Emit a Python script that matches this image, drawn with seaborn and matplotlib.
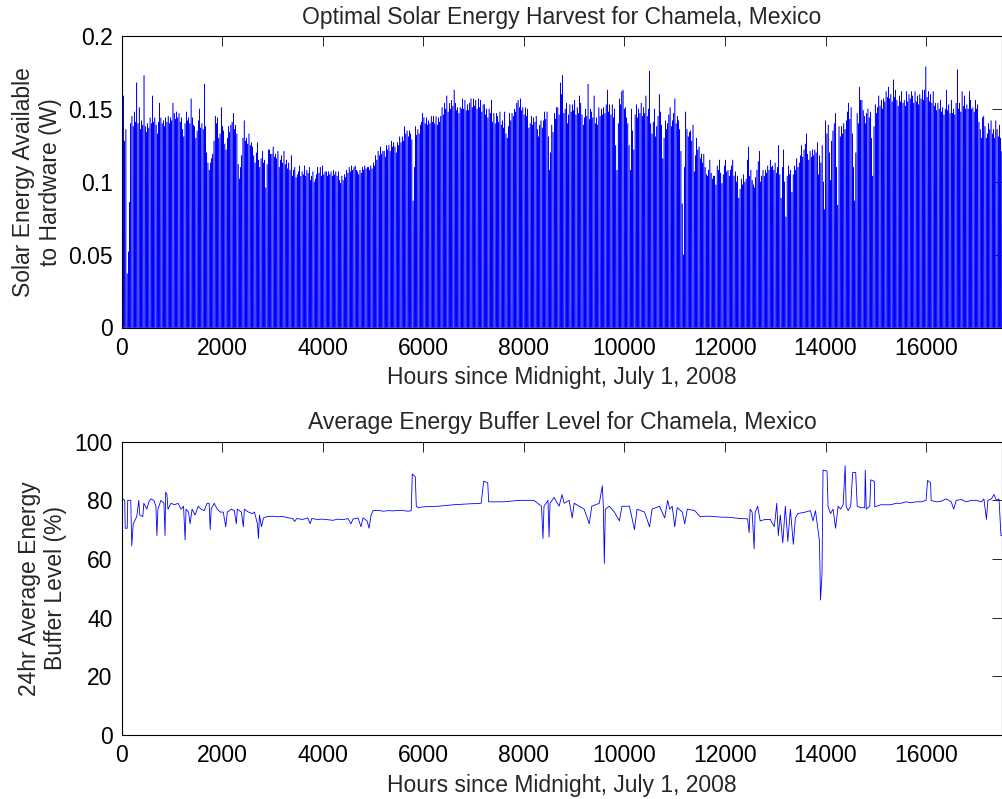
import numpy as np
import matplotlib
matplotlib.use("Agg")
import matplotlib.pyplot as plt
import seaborn as sns

# Daily peak of the solar power available to the hardware (W), one value per day
# starting at midnight, July 1, 2008.
peak_seg1 = [
    0.152, 0.159, 0.128, 0.136, 0.037, 0.052, 0.086, 0.140, 0.145, 0.138,
    0.148, 0.141, 0.168, 0.140, 0.151, 0.136, 0.142, 0.139, 0.173, 0.138,
    0.134, 0.140, 0.137, 0.144, 0.140, 0.159, 0.141, 0.144, 0.139, 0.133,
    0.141, 0.154, 0.144, 0.140, 0.142, 0.138, 0.144, 0.141, 0.145, 0.140,
    0.144, 0.142, 0.154, 0.147, 0.143, 0.148, 0.144, 0.147, 0.141, 0.144,
    0.136, 0.131, 0.140, 0.148, 0.142, 0.144, 0.140, 0.157, 0.144, 0.139,
    0.138, 0.130, 0.135, 0.142, 0.150, 0.137, 0.140, 0.136, 0.167, 0.138,
    0.120, 0.113, 0.108, 0.113, 0.116, 0.119, 0.128, 0.145, 0.140, 0.144,
    0.130, 0.133, 0.151, 0.138, 0.135, 0.126, 0.122, 0.130, 0.138, 0.134,
    0.139, 0.141, 0.147, 0.136, 0.139, 0.133, 0.112, 0.102, 0.110, 0.118,
    0.130, 0.142, 0.128, 0.130, 0.126, 0.133, 0.125, 0.127, 0.124, 0.118,
    0.113, 0.120, 0.127, 0.115, 0.110, 0.116, 0.121, 0.113, 0.115, 0.096,
    0.112, 0.122, 0.122, 0.119,
]
peak_seg2 = [
    0.119, 0.124, 0.117, 0.119, 0.116, 0.121, 0.110, 0.115, 0.118, 0.113,
    0.121, 0.112, 0.115, 0.109, 0.113, 0.108, 0.118, 0.104, 0.108, 0.110,
    0.103, 0.105, 0.107, 0.111, 0.104, 0.107, 0.105, 0.111, 0.104, 0.108,
    0.106, 0.110, 0.101, 0.104, 0.107, 0.100, 0.102, 0.105, 0.110, 0.106,
    0.110, 0.104, 0.111, 0.105, 0.107, 0.107, 0.104, 0.107, 0.105, 0.107,
    0.104, 0.108, 0.105, 0.107, 0.104, 0.107, 0.101, 0.099, 0.104, 0.101,
    0.105, 0.103, 0.108, 0.106, 0.110, 0.107, 0.111, 0.108, 0.110, 0.111,
    0.108, 0.107, 0.105, 0.108, 0.106, 0.110, 0.108, 0.111, 0.109, 0.110,
    0.110, 0.108, 0.111, 0.109, 0.113, 0.111, 0.118, 0.115, 0.121, 0.118,
    0.124, 0.119, 0.121, 0.121, 0.117, 0.125, 0.122, 0.125, 0.121, 0.128,
    0.124, 0.127, 0.124, 0.120, 0.127, 0.125, 0.131, 0.127, 0.131, 0.128,
    0.138, 0.133, 0.135, 0.131, 0.135, 0.133, 0.129, 0.087, 0.110, 0.138,
    0.132, 0.136,
]
peak_seg3 = [
    0.133, 0.139, 0.141, 0.147, 0.144, 0.140, 0.144, 0.139, 0.142, 0.140,
    0.145, 0.141, 0.145, 0.140, 0.145, 0.139, 0.144, 0.141, 0.145, 0.151,
    0.146, 0.154, 0.150, 0.159, 0.148, 0.154, 0.150, 0.156, 0.152, 0.163,
    0.154, 0.149, 0.151, 0.147, 0.151, 0.150, 0.157, 0.150, 0.156, 0.149,
    0.153, 0.149, 0.154, 0.157, 0.151, 0.157, 0.152, 0.156, 0.150, 0.157,
    0.151, 0.156, 0.148, 0.153, 0.153, 0.146, 0.150, 0.144, 0.150, 0.147,
    0.156, 0.141, 0.147, 0.140, 0.147, 0.145, 0.141, 0.148, 0.139, 0.142,
    0.137, 0.148, 0.133, 0.130, 0.138, 0.147, 0.142, 0.147, 0.145, 0.150,
    0.148, 0.154, 0.156, 0.151, 0.157, 0.149, 0.151, 0.146, 0.151, 0.145,
    0.150, 0.137, 0.140, 0.145, 0.139, 0.144, 0.141, 0.145, 0.136, 0.131,
    0.139, 0.142, 0.137, 0.142, 0.148, 0.143, 0.148, 0.131, 0.108, 0.120,
    0.139, 0.134, 0.147, 0.143, 0.151, 0.151, 0.146, 0.168, 0.160, 0.173,
    0.147,
]
peak_seg4 = [
    0.150, 0.154, 0.140, 0.146, 0.153, 0.148, 0.153, 0.149, 0.156, 0.146,
    0.151, 0.147, 0.159, 0.154, 0.146, 0.139, 0.144, 0.150, 0.145, 0.167,
    0.143, 0.150, 0.148, 0.144, 0.159, 0.140, 0.144, 0.139, 0.151, 0.145,
    0.150, 0.146, 0.151, 0.147, 0.153, 0.163, 0.148, 0.153, 0.146, 0.153,
    0.144, 0.150, 0.125, 0.108, 0.140, 0.157, 0.153, 0.162, 0.163, 0.150,
    0.151, 0.144, 0.140, 0.125, 0.108, 0.150, 0.135, 0.122, 0.146, 0.153,
    0.144, 0.150, 0.147, 0.154, 0.145, 0.151, 0.147, 0.159, 0.145, 0.150,
    0.176, 0.140, 0.133, 0.141, 0.150, 0.131, 0.138, 0.145, 0.160, 0.148,
    0.139, 0.116, 0.130, 0.142, 0.136, 0.140, 0.146, 0.151, 0.138, 0.142,
    0.147, 0.157, 0.140, 0.145, 0.142, 0.136, 0.121, 0.085, 0.050, 0.110,
    0.148, 0.136, 0.131, 0.134, 0.135, 0.128, 0.139, 0.107, 0.118, 0.130,
    0.122, 0.124, 0.116, 0.119, 0.113, 0.119, 0.110, 0.105, 0.104, 0.108,
    0.115, 0.106, 0.102, 0.104,
]
peak_seg5 = [
    0.104, 0.098, 0.111, 0.108, 0.115, 0.106, 0.099, 0.105, 0.111, 0.115,
    0.107, 0.108, 0.104, 0.108, 0.111, 0.115, 0.104, 0.107, 0.100, 0.104,
    0.089, 0.095, 0.102, 0.098, 0.105, 0.100, 0.102, 0.115, 0.124, 0.104,
    0.108, 0.101, 0.098, 0.096, 0.103, 0.108, 0.114, 0.121, 0.100, 0.104,
    0.108, 0.104, 0.108, 0.106, 0.111, 0.108, 0.115, 0.110, 0.111, 0.108,
    0.113, 0.106, 0.110, 0.125, 0.105, 0.089, 0.110, 0.122, 0.100, 0.076,
    0.104, 0.111, 0.105, 0.108, 0.093, 0.105, 0.111, 0.108, 0.116, 0.110,
    0.113, 0.118, 0.125, 0.117, 0.122, 0.126, 0.133, 0.119, 0.115, 0.121,
    0.117, 0.122, 0.118, 0.122, 0.120, 0.127, 0.105, 0.118, 0.113, 0.125,
    0.100, 0.081, 0.142, 0.133, 0.139, 0.120, 0.101, 0.128, 0.135, 0.140,
    0.147, 0.110, 0.084, 0.138, 0.131, 0.138, 0.133, 0.140, 0.136, 0.142,
    0.148, 0.154, 0.143, 0.151, 0.133, 0.110, 0.087, 0.120, 0.147, 0.140,
    0.165, 0.156,
]
peak_seg6 = [
    0.156, 0.149, 0.145, 0.140, 0.147, 0.150, 0.144, 0.148, 0.130, 0.104,
    0.138, 0.153, 0.147, 0.151, 0.159, 0.152, 0.156, 0.150, 0.157, 0.155,
    0.162, 0.158, 0.165, 0.157, 0.160, 0.155, 0.170, 0.158, 0.163, 0.156,
    0.152, 0.159, 0.155, 0.162, 0.154, 0.156, 0.152, 0.162, 0.155, 0.160,
    0.157, 0.162, 0.159, 0.154, 0.162, 0.155, 0.159, 0.153, 0.160, 0.157,
    0.163, 0.156, 0.163, 0.179, 0.158, 0.162, 0.155, 0.160, 0.154, 0.162,
    0.152, 0.154, 0.149, 0.154, 0.150, 0.156, 0.148, 0.151, 0.146, 0.150,
    0.163, 0.149, 0.153, 0.147, 0.156, 0.147, 0.150, 0.146, 0.154, 0.177,
    0.150, 0.154, 0.148, 0.162, 0.152, 0.159, 0.150, 0.153, 0.150, 0.162,
    0.156, 0.150, 0.151, 0.148, 0.156, 0.150, 0.153, 0.141, 0.136, 0.130,
    0.144, 0.145, 0.138, 0.130, 0.133, 0.140, 0.136, 0.142, 0.133, 0.136,
    0.130, 0.142, 0.136, 0.131, 0.139, 0.130, 0.121,
]

# Hours of the day at which the panel output starts, peaks and ends
sunrise_hour, noon_hour, sunset_hour = 9, 12, 15

# 24 hr running average of the energy buffer level (%), sampled at change points
buffer_hours = [
    0, 20, 60, 70, 110, 120, 180, 200, 230, 300,
    340, 360, 420, 440, 500, 540, 580, 640, 680, 700,
    720, 780, 840, 862, 875, 900, 920, 980, 1050, 1120,
    1180, 1230, 1261, 1280, 1330, 1360, 1400, 1460, 1520, 1580,
    1640, 1700, 1740, 1760, 1780, 1840, 1900, 1960, 2020, 2070,
    2100, 2180, 2240, 2280, 2300, 2380, 2420, 2440, 2520, 2600,
    2640, 2700, 2720, 2740, 2780, 2820, 2900, 3000, 3100, 3200,
    3300, 3400, 3440, 3480, 3600, 3700, 3750, 3780, 3900, 4000,
    4100, 4200, 4300, 4400, 4500, 4560, 4600, 4700, 4760, 4800,
    4880, 4920, 4960, 5000, 5100, 5200, 5300, 5400, 5500, 5600,
    5700, 5760, 5780, 5840, 5860, 5900, 6000, 6300, 6600, 6900,
    7150, 7200, 7280, 7300, 7600, 7900, 8200, 8350, 8380, 8400,
    8480, 8500, 8520, 8600, 8700, 8760, 8800, 8900, 8960, 9000,
    9100, 9200, 9300, 9350, 9500, 9560, 9580, 9600, 9620, 9700,
    9800, 9900, 9950, 10100, 10200, 10250, 10400, 10500, 10550, 10700,
    10800, 10860, 10900, 10950, 11000, 11050, 11150, 11200, 11250, 11400,
    11500, 11700, 11900, 12100, 12300, 12450, 12480, 12500, 12540, 12580,
    12600, 12650, 12700, 12800, 12900, 12980, 13000, 13030, 13060, 13100,
    13150, 13200, 13250, 13300, 13360, 13400, 13450, 13600, 13700, 13750,
    13800, 13880, 13900, 13930, 13950, 14030, 14050, 14100, 14150, 14200,
    14250, 14300, 14350, 14390, 14410, 14450, 14500, 14540, 14600, 14630,
    14700, 14780, 14790, 14810, 14880, 14900, 14970, 14980, 15100, 15200,
    15300, 15400, 15500, 15600, 15700, 15800, 15900, 16000, 16030, 16090,
    16100, 16200, 16300, 16400, 16500, 16550, 16600, 16700, 16800, 16900,
    17000, 17100, 17150, 17200, 17230, 17300, 17350, 17400, 17450, 17490,
    17520,
]
buffer_level = [
    71.0, 80.5, 80.0, 70.5, 70.5, 80.0, 80.0, 64.5, 72.0, 74.5,
    80.0, 75.0, 74.5, 79.0, 77.0, 79.5, 80.5, 80.0, 78.0, 68.0,
    77.0, 80.0, 79.0, 68.0, 82.8, 82.0, 77.0, 79.0, 78.5, 79.0,
    77.0, 78.0, 66.5, 77.0, 76.0, 72.0, 77.0, 75.0, 78.0, 77.0,
    76.5, 79.0, 79.0, 70.0, 77.0, 79.0, 77.0, 76.0, 76.0, 71.0,
    76.0, 77.0, 76.5, 72.0, 77.0, 76.0, 71.0, 77.0, 76.0, 75.5,
    76.0, 72.0, 67.0, 75.0, 71.0, 74.0, 74.5, 74.6, 74.4, 74.5,
    74.1, 73.8, 72.8, 73.8, 73.5, 74.0, 72.0, 73.8, 73.5, 73.6,
    73.4, 73.2, 73.6, 73.4, 73.8, 72.0, 73.6, 74.0, 71.0, 74.0,
    73.0, 70.5, 75.0, 76.5, 76.6, 76.3, 76.5, 76.4, 76.6, 76.5,
    76.3, 76.5, 89.0, 88.0, 78.0, 77.5, 77.8, 78.0, 78.5, 78.8,
    79.0, 86.5, 86.0, 79.5, 79.5, 80.0, 80.0, 78.0, 67.0, 78.0,
    80.0, 67.5, 79.0, 81.0, 78.0, 82.0, 79.0, 80.0, 74.0, 79.0,
    78.0, 77.0, 72.0, 78.0, 79.0, 85.0, 78.0, 58.5, 77.0, 78.0,
    76.0, 73.0, 78.0, 78.0, 70.0, 77.0, 76.0, 71.0, 77.0, 78.0,
    74.0, 80.0, 77.0, 78.0, 71.0, 77.5, 76.0, 72.0, 77.0, 76.5,
    74.5, 74.6, 74.3, 74.2, 73.8, 73.7, 69.0, 77.0, 76.0, 63.5,
    76.0, 78.0, 73.0, 73.5, 73.5, 71.0, 74.0, 79.0, 68.0, 75.0,
    65.5, 78.0, 66.0, 77.0, 65.0, 74.0, 75.5, 76.0, 76.5, 73.0,
    76.5, 66.0, 46.0, 55.0, 90.3, 90.0, 78.0, 75.5, 77.0, 70.5,
    78.0, 77.0, 78.5, 91.8, 78.0, 76.5, 78.0, 89.5, 89.5, 78.0,
    77.5, 77.5, 90.3, 77.0, 78.0, 87.0, 86.5, 77.8, 78.5, 78.5,
    78.5, 79.0, 79.0, 79.5, 79.2, 79.5, 79.5, 80.0, 86.8, 86.0,
    80.0, 79.5, 79.7, 80.5, 79.5, 77.0, 80.0, 80.3, 79.5, 80.0,
    80.0, 79.5, 80.5, 73.5, 80.0, 80.5, 82.0, 80.0, 80.5, 68.0,
    68.0,
]

x_ticks = list(range(0, 16001, 2000))
solar_ticks = [0, 0.05, 0.1, 0.15, 0.2]
solar_tick_labels = ["0", "0.05", "0.1", "0.15", "0.2"]
buffer_ticks = [0, 20, 40, 60, 80, 100]
hours_total = 17520

# Hourly trace: zero overnight, rising to the day's peak at noon
peaks = np.array(peak_seg1 + peak_seg2 + peak_seg3 + peak_seg4 + peak_seg5 + peak_seg6)
day = np.arange(len(peaks))
solar_hours = (24 * day[:, None] + np.array([sunrise_hour, noon_hour, sunset_hour])).ravel()
solar_power = np.column_stack([np.zeros_like(peaks), peaks, np.zeros_like(peaks)]).ravel()

sns.set_style("white")
plt.rcParams["font.family"] = ["Liberation Sans", "DejaVu Sans"]
plt.rcParams["font.size"] = 16.5
plt.rcParams["axes.edgecolor"] = "black"
plt.rcParams["path.simplify"] = False

W, H = 1002, 799
fig = plt.figure(figsize=(W / 100, H / 100), dpi=100)
left, right = 121.7, 1002.5
ax1 = fig.add_axes([left / W, (H - 327.5) / H, (right - left) / W, 291.5 / H])
ax2 = fig.add_axes([left / W, (H - 735.0) / H, (right - left) / W, 293.3 / H])

sns.lineplot(x=solar_hours, y=solar_power, ax=ax1, color="#0000ff",
             linewidth=0.38, estimator=None, sort=False)
sns.lineplot(x=buffer_hours, y=buffer_level, ax=ax2, color="#0000ff",
             linewidth=0.6, estimator=None, sort=False)

xlabel = "Hours since Midnight, July 1, 2008"
ax1.set_title("Optimal Solar Energy Harvest for Chamela, Mexico", fontsize=16.5, pad=8.5)
ax2.set_title("Average Energy Buffer Level for Chamela, Mexico", fontsize=16.5, pad=9.5)
ax1.set_ylabel("Solar Energy Available\nto Hardware (W)", fontsize=16.5, labelpad=4.5)
ax2.set_ylabel("24hr Average Energy\nBuffer Level (%)", fontsize=16.5, labelpad=5)

ax1.set_ylim(0, 0.2)
ax1.set_yticks(solar_ticks)
ax1.set_yticklabels(solar_tick_labels)
ax2.set_ylim(0, 100)
ax2.set_yticks(buffer_ticks)
ax2.set_yticklabels([str(t) for t in buffer_ticks])

for ax in (ax1, ax2):
    ax.set_xlim(0, hours_total)
    ax.set_xticks(x_ticks)
    ax.set_xticklabels([str(t) for t in x_ticks])
    ax.set_xlabel(xlabel, fontsize=16.5, labelpad=5)
    ax.tick_params(direction="in", top=True, right=True, length=7, width=0.6,
                   labelsize=16.5, pad=6.5, colors="black")
    for s in ax.spines.values():
        s.set_visible(True)
        s.set_linewidth(0.8)
        s.set_color("black")
    ax.grid(False)

fig.savefig("out.png", dpi=100)
